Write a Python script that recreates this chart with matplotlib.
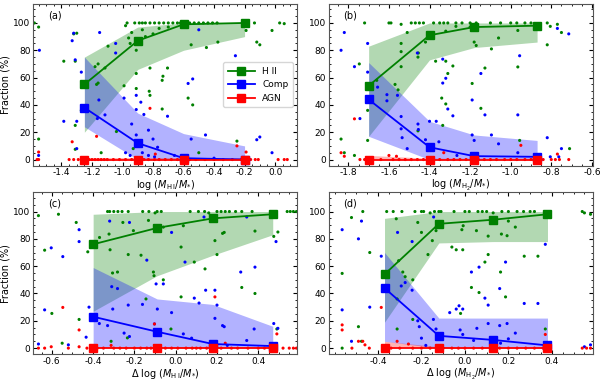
import numpy as np
import matplotlib
matplotlib.use('Agg')
import matplotlib.pyplot as plt

# ---- panel (a): log(MHI/M*) ----
xa = [-1.25, -0.9, -0.6, -0.2]
hii_a = [55, 87, 99, 100]; hii_lo_a = [20, 66, 80, 90]; hii_hi_a = [75, 97, 100, 100]
comp_a = [38, 12, 1, 0]; comp_lo_a = [24, 0, 0, 0]; comp_hi_a = [75, 34, 19, 10]
agn_a = [0, 0, 0, 0]; agn_lo_a = [0, 0, 0, 0]; agn_hi_a = [1, 1, 1, 1]

ga_x = [-1.578, -1.55, -1.55, -1.385, -1.32, -1.30, -1.31, -1.31, -1.31, -1.27, -1.17, -1.16, -1.18, -1.16,
        -1.14, -1.115, -1.095, -1.04, -0.99, -0.98, -0.97, -0.94, -0.95, -0.91, -0.91, -0.91, -0.82, -0.825,
        -0.82, -0.74, -0.74, -0.705, -0.735, -0.93, -0.57, -0.54, -0.55, -0.45, -0.375, -0.5, -0.25, -0.19,
        -0.135, -0.12, -0.1, -0.02, 0.03, 0.06,
        -0.92, -0.89, -0.87, -0.85, -0.82, -0.79, -0.76, -0.73, -0.7, -0.67, -0.64, -0.62, -0.58, -0.56,
        -0.53, -0.5, -0.47, -0.44, -0.41, -0.38, -0.85, -0.8, -0.76, -0.7, -0.96, -0.87]
ga_y = [100, 97, 15, 72, 92, 92.5, 72, 7.5, 25, 36, 55, 56, 68, 70,
        5, 67, 83, 20.5, 54, 98, 100, 93, 85, 80, 63, 52, 67, 50,
        47, 37, 58, 67, 61, 8, 45, 40, 84, 82, 86, 5, 13.5, 94.5,
        100, 86, 84, 94.5, 100, 99.5,
        100, 100, 100, 100, 100, 100, 100, 100, 100, 100, 100, 100, 100, 100,
        100, 100, 100, 100, 100, 100, 90, 92, 96, 97, 89, 95]
ba_x = [-1.545, -1.55, -1.32, -1.33, -1.31, -1.27, -1.385, -1.30, -1.30, -1.15, -1.155, -1.165, -1.115,
        -1.045, -1.045, -0.99, -0.98, -0.94, -0.91, -0.91, -0.91, -0.88, -0.86, -0.83, -0.80, -0.77, -0.705,
        -0.66, -0.57, -0.54, -0.55, -0.50, -0.456, -0.40, -0.26, -0.12, -0.10, -0.02, -0.95, -0.87, -0.83, -0.79]
ba_y = [80, 3, 92.5, 87, 73, 64, 28, 28, 8, 93, 43.6, 30, 32.7,
        85, 78, 45, 5, 26, 18, 47, 36.6, 42, 33, 21.5, 15, 9, 31.7,
        3, 55.7, 59, 15, 95, 18, 1, 76, 14.5, 16.5, 5, 3, 5, 3, 2]
ra_x = [-1.55, -1.55, -1.33, -1.17, -0.82, -0.785, -0.25, -0.19,
        -1.56, -1.35, -1.32, -1.29, -1.27, -1.22, -1.2, -1.18, -1.16, -1.14, -1.12, -1.1, -1.06, -1.02,
        -0.98, -0.94, -0.9, -0.86, -0.83, -0.79, -0.76, -0.72, -0.68, -0.64, -0.6, -0.56, -0.52, -0.46,
        -0.4, -0.34, -0.28, -0.22, -0.19, -0.16, -0.13, -0.11, 0.02, 0.06, 0.08]
ra_y = [5.5, 0, 13, 17, 37.5, 4, 10, 5.5] + [0] * 39

# ---- panel (b): log(MH2/M*) ----
xb = [-1.7, -1.4, -1.18, -0.87]
hii_b = [54, 91, 97, 98]; hii_lo_b = [17, 73, 82, 86]; hii_hi_b = [83, 100, 100, 100]
comp_b = [44, 9, 2.5, 2]; comp_lo_b = [17, 0, 0, 0]; comp_hi_b = [71, 28, 18, 14]
agn_b = [0, 0, 0, 0]; agn_lo_b = [0, 0, 0, 0]; agn_hi_b = [3, 1, 1, 1]

gb_x = [-1.836, -1.82, -1.77, -1.746, -1.72, -1.705, -1.705, -1.66, -1.60, -1.59, -1.54, -1.54, -1.54,
        -1.54, -1.57, -1.555, -1.51, -1.49, -1.47, -1.45, -1.43, -1.457, -1.455, -1.457, -1.42,
        -1.38, -1.35, -1.33, -1.31, -1.27, -1.24, -1.2, -1.17, -1.37, -1.32, -1.34, -1.32, -1.31, -1.285,
        -1.335, -1.32, -1.27, -1.20, -1.19, -1.18, -1.17, -1.147, -1.127, -1.095, -1.06,
        -1.1, -1.05, -1.0, -0.97, -0.93, -0.9, -0.965, -0.965, -0.956, -0.82, -0.82, -0.805, -0.77, -0.75,
        -0.71]
gb_y = [15, 5, 3, 70, 100, 14, 36, 58, 100, 100, 99, 85, 79,
        68, 55, 51, 93, 100, 100, 100, 100, 21, 78, 75, 86,
        100, 100, 100, 100, 100, 100, 100, 100, 72, 72, 45, 40.7, 63, 68.5,
        25, 94, 97.5, 97, 55.7, 86, 83.5, 37.5, 67, 81, 89,
        100, 100, 100, 100, 100, 100, 94.5, 67.8, 14, 100, 84, 97.5, 99, 93,
        8]
bb_x = [-1.836, -1.82, -1.77, -1.743, -1.705, -1.705, -1.656, -1.61, -1.61, -1.558, -1.54, -1.54, -1.535,
        -1.51, -1.46, -1.457, -1.455, -1.42, -1.40, -1.367, -1.354, -1.335, -1.335, -1.32, -1.31, -1.285,
        -1.265, -1.19, -1.19, -1.18, -1.147, -1.127, -1.095, -1.06, -0.965, -0.956, -0.965, -0.82, -0.805,
        -0.77, -0.75, -0.714, -0.763]
bb_y = [80, 93, 68, 30, 85, 64, 53, 47.5, 43, 47, 31.5, 22.5, 16,
        8, 78, 26, 22, 14.5, 28, 28, 13, 73.5, 56, 59.5, 37, 32,
        3, 43.6, 18, 14, 63, 32.7, 18, 11.5, 32.7, 76, 5, 16, 2,
        96, 8, 92, 2]
rb_x = [-1.836, -1.82, -1.77, -1.743, -1.60, -1.563, -1.33, -0.95, -0.77, -0.714,
        -1.72, -1.68, -1.64, -1.58, -1.55, -1.52, -1.49, -1.46, -1.43, -1.38, -1.35, -1.31, -1.28, -1.25,
        -1.22, -1.16, -1.13, -1.1, -1.07, -1.03, -1.0, -0.97, -0.93, -0.9, -0.84, -0.8, -0.78, -0.76]
rb_y = [5, 2.4, 29.8, 0, 3, 2.4, 5, 10.4, 4, 0] + [0] * 28

# ---- panel (c): delta log(MHI/M*) ----
xc = [-0.4, -0.09, 0.18, 0.47]
hii_c = [76, 88, 95, 98]; hii_lo_c = [27, 53, 68, 83]; hii_hi_c = [98, 100, 100, 100]
comp_c = [23, 12, 3, 1.5]; comp_lo_c = [0, 0, 0, 0]; comp_hi_c = [59, 36, 32, 16]
agn_c = [0, 0, 0, 0]; agn_lo_c = [0, 0, 0, 0]; agn_hi_c = [1, 1, 1, 1]

gc_x = [-0.665, -0.635, -0.60, -0.568, -0.55, -0.482, -0.468, -0.426, -0.369,
        -0.33, -0.32, -0.3, -0.28, -0.26, -0.23, -0.16, -0.13, -0.1, -0.09, -0.07,
        -0.323, -0.318, -0.306, -0.282, -0.313, -0.256, -0.23, -0.234, -0.205, -0.168, -0.144, -0.132,
        -0.108, -0.105, -0.06, -0.06, -0.023, 0.026, 0.026, 0.037,
        0.07, 0.11, 0.14, 0.16, 0.2, 0.22, 0.24, 0.26, 0.29, 0.32, 0.37,
        0.09, 0.142, 0.19, 0.2, 0.227, 0.235, 0.32, 0.384, 0.384, 0.475, 0.495, 0.49,
        0.54, 0.555, 0.57, 0.585]
gc_y = [97, 71.7, 25.4, 98, 3.6, 92, 21, 70.5, 81,
        100, 100, 100, 100, 100, 100, 100, 100, 99, 100, 100,
        83.5, 72, 55, 55.7, 5, 92, 68.5, 7.5, 86, 68, 36, 93.5,
        55.7, 53, 50, 88.6, 14, 37.5, 74, 89.6,
        100, 100, 100, 99, 100, 100, 100, 100, 100, 100, 100,
        63, 58, 78.7, 68.5, 84, 84.7, 44.4, 40, 85.7, 81.8, 85, 14,
        100, 100, 100, 100]
bc_x = [-0.665, -0.635, -0.603, -0.547, -0.52, -0.468, -0.468, -0.434, -0.42, -0.37, -0.33, -0.32,
        -0.31, -0.282, -0.305, -0.25, -0.23, -0.224, -0.224, -0.161, -0.14, -0.095, -0.06, -0.089,
        -0.103, -0.02, -0.02, 0.037, 0.045, 0.077, 0.09, 0.113, 0.137, 0.145, 0.19, 0.19, 0.2, 0.227,
        0.235, 0.25, 0.315, 0.344, 0.344, 0.38, 0.384, 0.486, 0.475, 0.495]
bc_y = [3, 28, 73.4, 67, 2.4, 86.7, 78, 8, 30, 18, 16.5, 93,
        45, 43.6, 28.6, 11, 31.5, 92, 8.5, 32, 64.4, 47, 47, 28.6,
        17.7, 84.7, 26, 10.4, 63, 7.3, 36.6, 33, 96, 42.4, 42.4, 21.8, 31.5, 16.5,
        15.7, 2, 55.7, 96, 5.6, 14, 59.3, 78, 18, 14.5]
rc_x = [-0.665, -0.635, -0.603, -0.547, -0.52, -0.468, -0.468, -0.313, -0.103, 0.19, 0.24, 0.49,
        -0.43, -0.38, -0.35, -0.3, -0.27, -0.24, -0.2, -0.17, -0.14, -0.12, -0.05, -0.02, 0.01, 0.05,
        0.08, 0.1, 0.12, 0.15, 0.22, 0.27, 0.3, 0.35, 0.4, 0.43, 0.52, 0.55, 0.57, 0.585]
rc_y = [0, 0, 1, 29.8, 0, 13.3, 1, 2, 17.7, 37.5, 3.6, 10.4] + [0] * 28

# ---- panel (d): delta log(MH2/M*) ----
xd = [-0.37, -0.12, 0.13, 0.38]
hii_d = [54, 91, 94, 98]; hii_lo_d = [19, 77, 78, 78]; hii_hi_d = [95, 100, 100, 100]
comp_d = [44, 9, 6, 2]; comp_lo_d = [5, 0, 0, 0]; comp_hi_d = [70, 22, 22, 22]
agn_d = [0, 0, 0, 0]; agn_lo_d = [0, 0, 0, 0]; agn_hi_d = [5, 1, 1, 1]

gd_x = [-0.565, -0.565, -0.522, -0.49, -0.476, -0.47, -0.438,
        -0.36, -0.33, -0.29, -0.23, -0.2, -0.19, -0.16, -0.14, -0.12, -0.11,
        -0.316, -0.312, -0.312, -0.305, -0.286, -0.275, -0.24, -0.24, -0.217, -0.2, -0.17, -0.15, -0.133,
        -0.06, -0.04, -0.02, -0.01, -0.014, -0.008, 0.03, 0.053, 0.065, 0.092, 0.107, 0.107, 0.168, 0.164,
        0.194, 0.2, 0.187, 0.232,
        -0.05, 0.0, 0.02, 0.06, 0.08, 0.1, 0.13, 0.17, 0.2, 0.24, 0.27, 0.3, 0.32,
        0.273, 0.336, 0.37, 0.54, 0.55, 0.578]
gd_y = [54.7, 0, 95.6, 15.7, 5, 100, 70,
        100, 100, 100, 100, 100, 100, 99, 100, 100, 100,
        94.7, 36, 14, 64, 55.7, 52.3, 50, 21, 92, 84.7, 68.5, 78.7, 86,
        74, 72, 25.4, 72, 86.7, 89.6, 44.4, 86, 40.7, 63, 68.5, 82, 83.5, 55.7,
        82.3, 93, 37.5, 88.6,
        100, 100, 100, 100, 100, 100, 99, 100, 100, 100, 100, 100, 100,
        67.3, 67.3, 14, 100, 99, 98]
bd_x = [-0.565, -0.565, -0.522, -0.49, -0.476, -0.438, -0.385, -0.31, -0.293, -0.275, -0.243, -0.243,
        -0.217, -0.21, -0.2, -0.18, -0.144, -0.133, -0.145, -0.07, -0.04, -0.027, -0.022, -0.01, -0.01,
        0.03, 0.04, 0.055, 0.065, 0.092, 0.107, 0.107, 0.16, 0.16, 0.164, 0.187, 0.194, 0.2, 0.232,
        0.273, 0.336, 0.37, 0.55, 0.578]
bd_y = [86.7, 28, 5, 80, 93, 30, 67.3, 84.7, 45.5, 48, 78, 42.4,
        20, 15.7, 7.3, 2, 96, 14, 21, 26, 28.6, 31, 13.3, 28.6, 10,
        55.7, 5.6, 14.5, 59.3, 36.6, 31.5, 18, 43.6, 16.5, 3.6, 63, 18, 6.8, 11,
        32.7, 32.7, 76, 1, 2.4]
rd_x = [-0.565, -0.565, -0.52, -0.49, -0.47, -0.46, -0.385, -0.312, -0.26, 0.37,
        -0.44, -0.34, -0.3, -0.24, -0.2, -0.16, -0.1, -0.06, -0.03, 0.0, 0.04, 0.08, 0.12, 0.16,
        0.2, 0.24, 0.28, 0.32, 0.36, 0.54, 0.56, 0.578]
rd_y = [17, 13.3, 0, 5, 5, 2.4, 29.8, 5, 3, 10] + [0] * 22

panels = [
    dict(x=xa, lines=[(hii_a, hii_lo_a, hii_hi_a), (comp_a, comp_lo_a, comp_hi_a), (agn_a, agn_lo_a, agn_hi_a)],
         pts=[(ga_x, ga_y), (ba_x, ba_y), (ra_x, ra_y)], xlim=(-1.585, 0.147),
         ticks=np.arange(-1.4, 0.01, 0.2), label=r'log ($M_{\rm H\,I}/M_{*}$)', tag='(a)'),
    dict(x=xb, lines=[(hii_b, hii_lo_b, hii_hi_b), (comp_b, comp_lo_b, comp_hi_b), (agn_b, agn_lo_b, agn_hi_b)],
         pts=[(gb_x, gb_y), (bb_x, bb_y), (rb_x, rb_y)], xlim=(-1.897, -0.595),
         ticks=np.arange(-1.8, -0.59, 0.2), label=r'log ($M_{\rm H_2}/M_{*}$)', tag='(b)'),
    dict(x=xc, lines=[(hii_c, hii_lo_c, hii_hi_c), (comp_c, comp_lo_c, comp_hi_c), (agn_c, agn_lo_c, agn_hi_c)],
         pts=[(gc_x, gc_y), (bc_x, bc_y), (rc_x, rc_y)], xlim=(-0.69, 0.59),
         ticks=np.arange(-0.6, 0.41, 0.2), label=r'$\Delta$ log ($M_{\rm H\,I}/M_{*}$)', tag='(c)'),
    dict(x=xd, lines=[(hii_d, hii_lo_d, hii_hi_d), (comp_d, comp_lo_d, comp_hi_d), (agn_d, agn_lo_d, agn_hi_d)],
         pts=[(gd_x, gd_y), (bd_x, bd_y), (rd_x, rd_y)], xlim=(-0.627, 0.589),
         ticks=np.arange(-0.4, 0.41, 0.2), label=r'$\Delta$ log ($M_{\rm H_2}/M_{*}$)', tag='(d)'),
]

colors = ['g', 'b', 'r']
names = ['H II', 'Comp', 'AGN']

fig, axes = plt.subplots(2, 2, figsize=(6.05, 3.83), dpi=100)
plt.subplots_adjust(left=0.055, right=0.98, top=0.99, bottom=0.075, wspace=0.118, hspace=0.165)

for i, (ax, p) in enumerate(zip(axes.flat, panels)):
    for (px, py), c in zip(p['pts'], colors):
        ax.scatter(px, py, s=5, c=c, edgecolors='none', zorder=2)
    for (med, lo, hi), c, n in zip(p['lines'], colors, names):
        ax.fill_between(p['x'], lo, hi, color=c, alpha=0.3, lw=0, zorder=1)
        ax.plot(p['x'], med, color=c, lw=1.3, marker='s', ms=5.5, label=n, zorder=3)
    ax.set_xlim(*p['xlim'])
    ax.set_ylim(-4.5, 114)
    ax.set_xticks(p['ticks'])
    ax.set_xticklabels(['%.1f' % t if abs(t) > 1e-9 else '0.0' for t in p['ticks']])
    ax.set_yticks([0, 20, 40, 60, 80, 100])
    ax.minorticks_on()
    ax.tick_params(which='both', direction='in', top=True, right=True, labelsize=6.5, pad=2)
    ax.tick_params(which='major', length=3)
    ax.tick_params(which='minor', length=1.5)
    ax.set_xlabel(p['label'], fontsize=7, labelpad=0.5)
    if i % 2 == 0:
        ax.set_ylabel('Fraction (%)', fontsize=7, labelpad=2)
    ax.text(0.055, 0.93, p['tag'], transform=ax.transAxes, fontsize=7, va='center')
    for s in ax.spines.values():
        s.set_color('#555555')
    if i == 0:
        ax.legend(loc='center right', fontsize=6.5, handlelength=3, borderpad=0.5, labelspacing=0.5)

plt.savefig('out.png', dpi=100)
